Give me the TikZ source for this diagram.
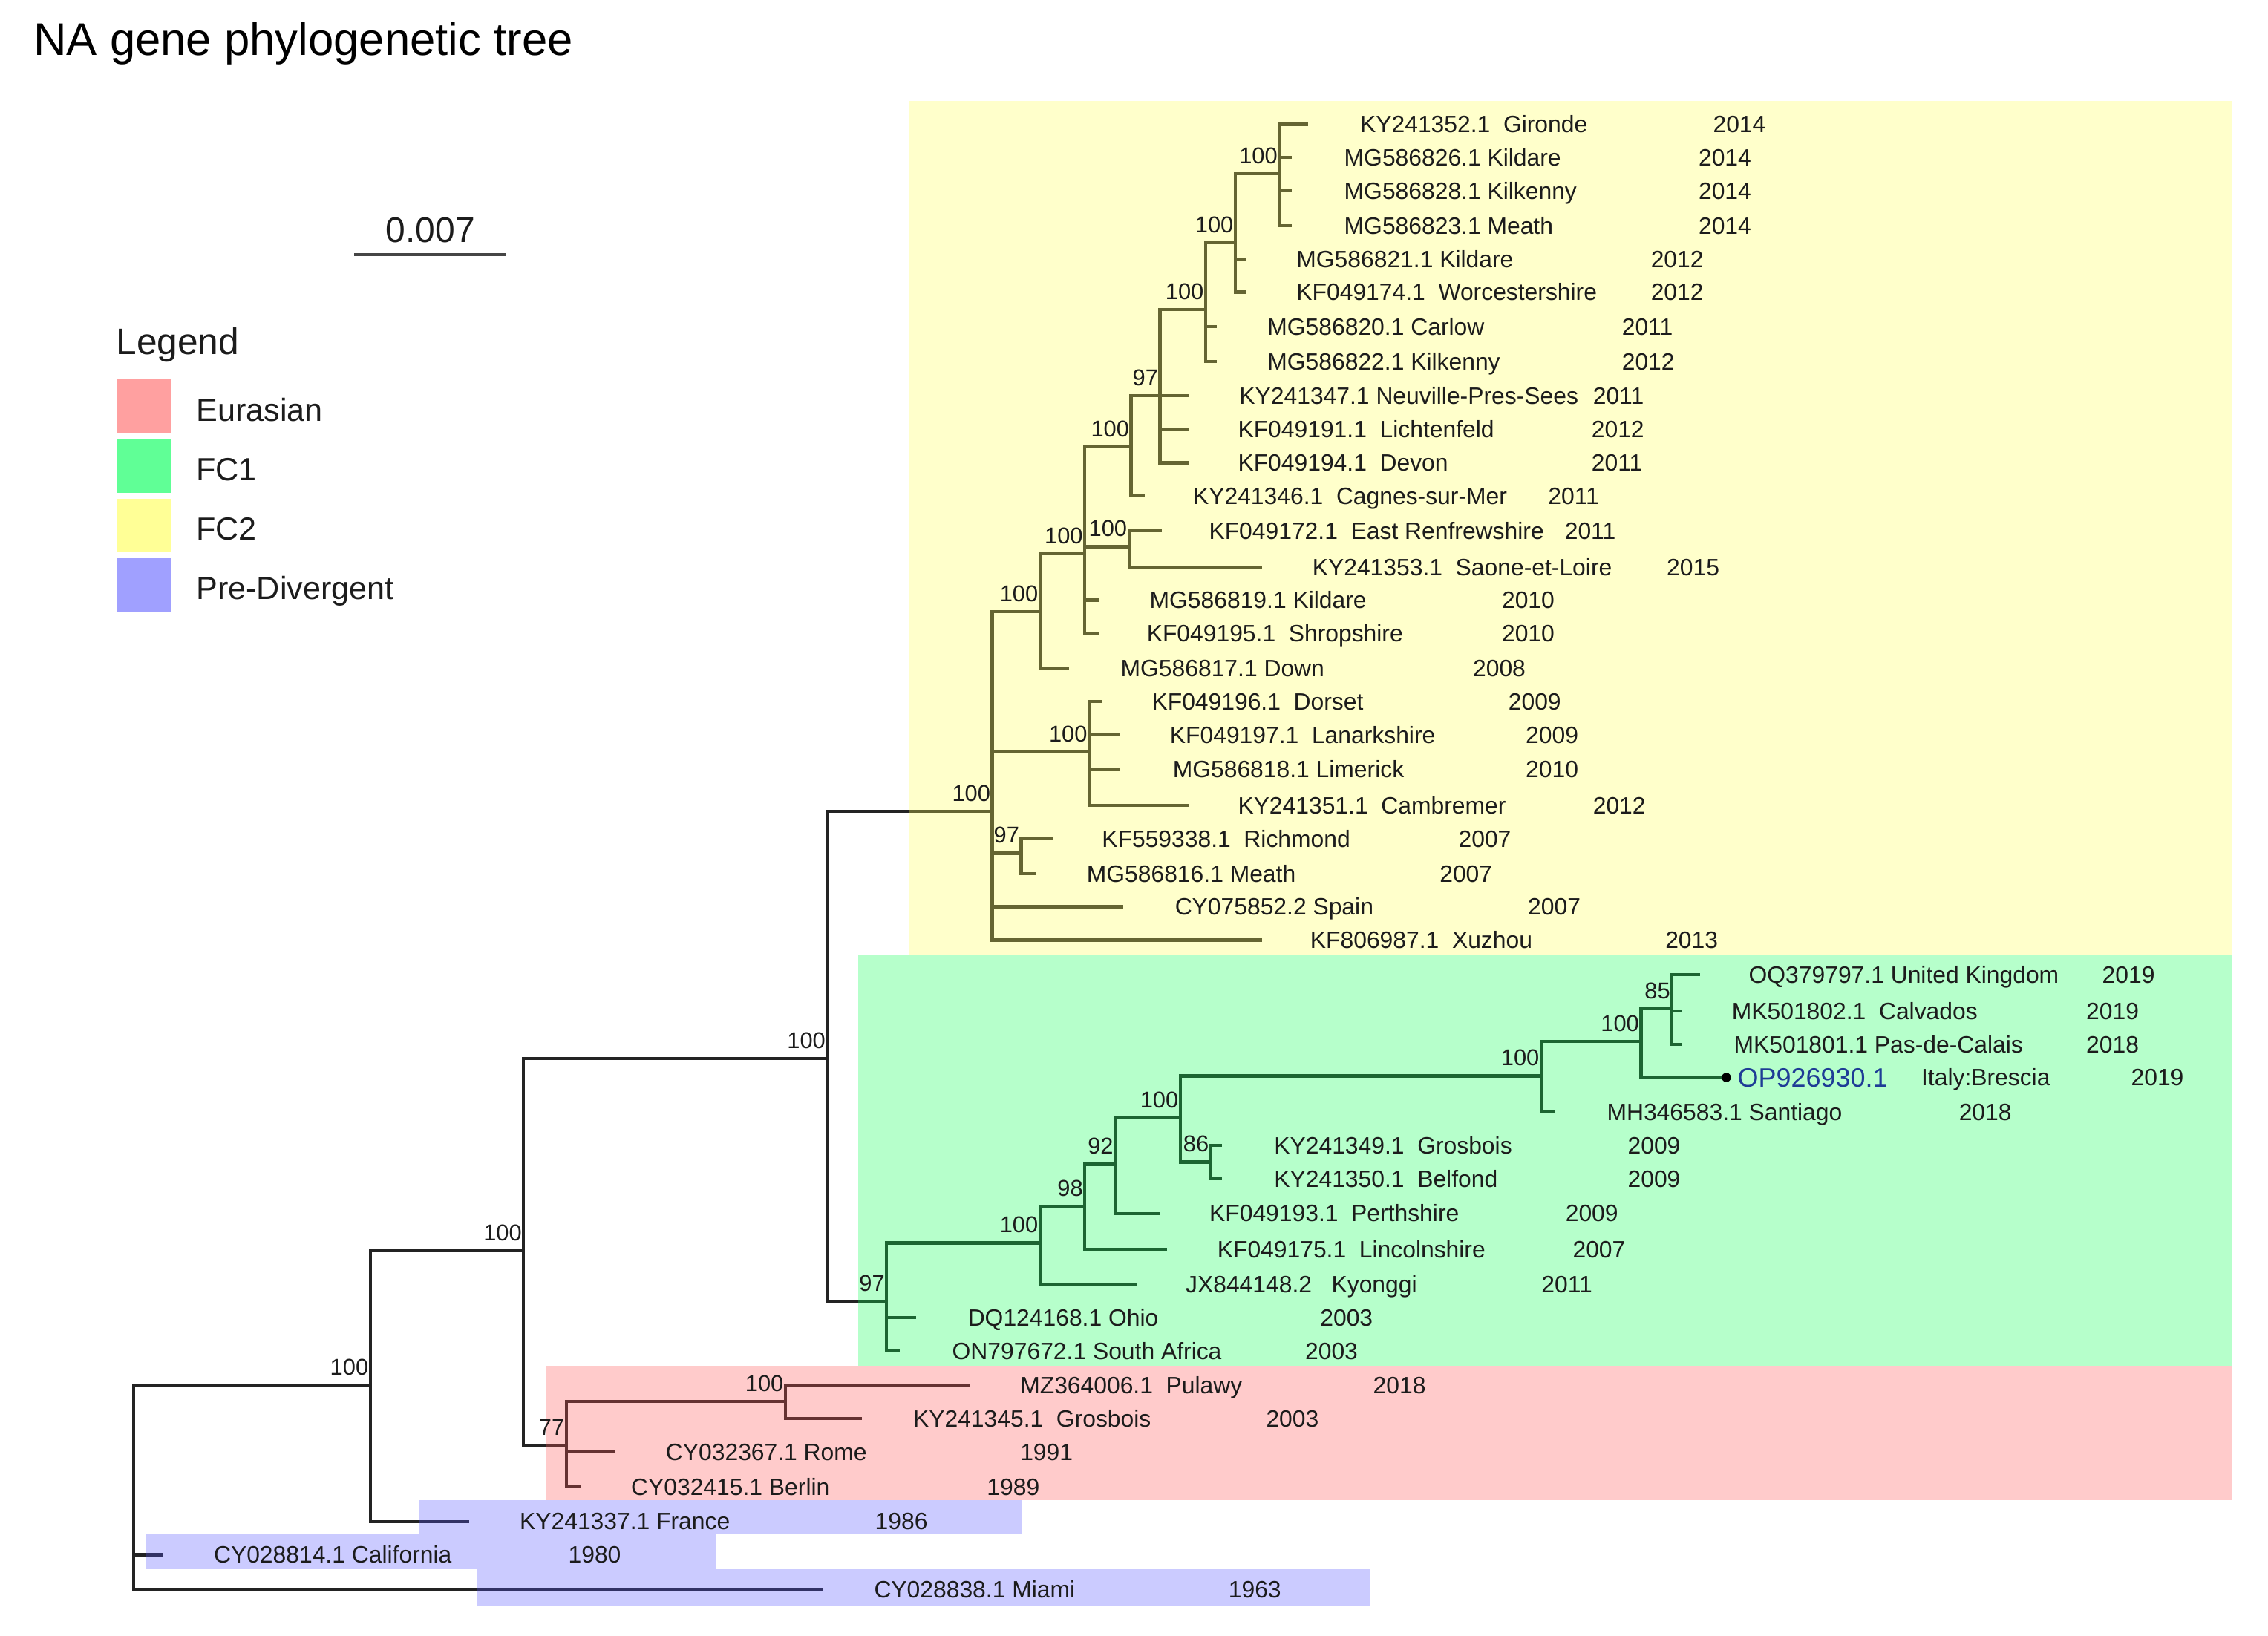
\documentclass[tikz,border=0pt]{standalone}
\usepackage{fontspec}
\setmainfont{Liberation Sans}
\definecolor{ovY}{RGB}{255,255,85}
\definecolor{ovG}{RGB}{15,255,85}
\definecolor{ovR}{RGB}{255,85,85}
\definecolor{ovB}{RGB}{85,85,255}
\definecolor{swR}{RGB}{255,160,160}
\definecolor{swG}{RGB}{96,255,150}
\definecolor{swY}{RGB}{255,255,150}
\definecolor{swB}{RGB}{160,160,255}
\definecolor{lineC}{RGB}{35,35,35}
\definecolor{txtC}{RGB}{28,28,28}
\definecolor{opC}{RGB}{30,60,150}
\begin{document}
\def\leaflist{%
1/NA/904.5/86/940/KY241352.1~~Gironde/1184/2014,
2/NA/893/109/929/MG586826.1 Kildare/1174/2014,
3/NA/893/132/929/MG586828.1 Kilkenny/1174/2014,
4/NA/893/156/929/MG586823.1 Meath/1174/2014,
5/NB/861/179/896/MG586821.1 Kildare/1141/2012,
6/NB/861/202/896/KF049174.1~~Worcestershire/1141/2012,
7/NC/841/226/876/MG586820.1 Carlow/1121/2011,
8/NC/841/250/876/MG586822.1 Kilkenny/1121/2012,
9/ND/821.7/273.5/856.5/KY241347.1 Neuville-Pres-Sees/1101/2011,
10/ND/821.7/297/855.5/KF049191.1~~Lichtenfeld/1100/2012,
11/ND/821.7/320/855.5/KF049194.1~~Devon/1100/2011,
12/NE/791.6/343/824.5/KY241346.1~~Cagnes-sur-Mer/1070/2011,
13/NG/803/367/835.5/KF049172.1~~East Renfrewshire/1081.5/2011,
14/NG/872.5/392/907/KY241353.1~~Saone-et-Loire/1152/2015,
15/NF/759.6/415/794.5/MG586819.1 Kildare/1038/2010,
16/NF/759.6/438/792.5/KF049195.1~~Shropshire/1038/2010,
17/NH/739/462/774.5/MG586817.1 Down/1018/2008,
18/NI/761.5/485/796/KF049196.1~~Dorset/1042.5/2009,
19/NI/774.7/508/808.5/KF049197.1~~Lanarkshire/1054.5/2009,
20/NI/774.7/532/810.5/MG586818.1 Limerick/1054.5/2010,
21/NI/821.7/557/855.5/KY241351.1~~Cambremer/1101/2012,
22/NJ/727.6/580/761.5/KF559338.1~~Richmond/1008/2007,
23/NJ/716.3/604/751/MG586816.1 Meath/995/2007,
24/FC2/776.5/627/812/CY075852.2 Spain/1056/2007,
25/FC2/872.5/650/905.5/KF806987.1~~Xuzhou/1151/2013,
26/NS/1175.2/674/1208.7/OQ379797.1 United Kingdom/1453/2019,
27/NS/1163/699/1197/MK501802.1~~Calvados/1442/2019,
28/NS/1163/722/1198.4/MK501801.1 Pas-de-Calais/1442/2018,
30/NQ/1075/769/1110.6/MH346583.1 Santiago/1354/2018,
31/NP/844.6/792/880.6/KY241349.1~~Grosbois/1125/2009,
32/NP/844.6/815/880.6/KY241350.1~~Belfond/1125/2009,
33/NN/802/839/835.8/KF049193.1~~Perthshire/1082/2009,
34/NM/807/864/841.3/KF049175.1~~Lincolnshire/1087/2007,
35/NL/785.7/888/819.4/JX844148.2~~~Kyonggi/1065.4/2011,
36/G1/633.5/911/668.8/DQ124168.1 Ohio/912.4/2003,
37/G1/622/934/658/ON797672.1 South Africa/902/2003,
38/NPG/671/958/705/MZ364006.1~~Pulawy/949/2018,
39/NPG/595.8/981/631/KY241345.1~~Grosbois/875/2003,
40/EU/425/1004/460/CY032367.1 Rome/705/1991,
41/EU/402/1028/436/CY032415.1 Berlin/682/1989,
42/N256/324.5/1052/359/KY241337.1 France/604.6/1986,
43/R/113/1075/147.5/CY028814.1 California/392.6/1980,
44/R/568.6/1099/604/CY028838.1 Miami/849/1963}
\begin{tikzpicture}[x=0.02cm,y=-0.02cm,
  br/.style={line width=1.25pt, draw=lineC},
  leaf/.style={anchor=base west, inner sep=0pt, font=\fontsize{9.3}{11}\selectfont, text=txtC},
  boot/.style={anchor=base east, inner sep=0pt, font=\fontsize{9}{11}\selectfont, text=txtC},
  legtxt/.style={anchor=base west, inner sep=0pt, font=\fontsize{12.6}{14}\selectfont, text=txtC},
  ovl/.style={fill opacity=0.3}]
\fill[white] (0,0) rectangle (1568,1131);
\useasboundingbox (0,0) rectangle (1568,1131);

% internal nodes
\foreach \n/\x/\y in {R/92.5/1028, N256/256/958, N362/362/865, N572/572/732,
  FC2/686/561, NH/719/423, NF/750/383, NE/782/309, ND/802/273.5, NC/833.5/214,
  NB/854/168, NA/884.5/120, NG/780.5/378, NI/753/520, NJ/706/590,
  G1/613/900, NL/719/859.5, NM/750/834, NN/771/805, NO/816/773, NP/837/803.5,
  NQ/1065.5/744, NR/1134.5/720, NS/1156/697.5, EU/391.5/999.5, NPG/543/969}
  \coordinate (\n) at (\x,\y);

% internal connectors
\foreach \p/\c in {R/N256, N256/N362, N362/N572, N572/FC2, FC2/NH, NH/NF, NF/NE,
  NE/ND, ND/NC, NC/NB, NB/NA, NF/NG, FC2/NI, FC2/NJ, N572/G1, G1/NL, NL/NM,
  NM/NN, NN/NO, NO/NP, NO/NQ, NQ/NR, NR/NS, N362/EU, EU/NPG}
  \draw[br] (\p) |- (\c);

% leaf connectors
\foreach \i/\p/\tx/\ty/\nx/\txt/\yx/\yr in \leaflist {
  \coordinate (t\i) at (\tx,\ty);
  \draw[br] (\p) |- (t\i);
}
\coordinate (t29) at (1193.5,745);
\draw[br] (NR) |- (t29);

% clade overlays
\fill[ovY, ovl] (628,70) rectangle (1543,660.5);
\fill[ovG, ovl] (593.5,660.5) rectangle (1543,944.5);
\fill[ovR, ovl] (377.5,944.5) rectangle (1543,1037.5);
\fill[ovB, ovl] (290,1037.5) rectangle (706,1061);
\fill[ovB, ovl] (101,1061) rectangle (494.7,1085);
\fill[ovB, ovl] (329.7,1085) rectangle (947.7,1110);

% leaf labels
\foreach \i/\p/\tx/\ty/\nx/\txt/\yx/\yr in \leaflist {
  \node[leaf] (n\i) at (\nx,\ty+5.8) {\txt};
  \node[leaf] (y\i) at (\yx,\ty+5.8) {\yr};
}
\fill[black] (t29) circle (3.2);
\node[leaf, font=\fontsize{10.5}{12}\selectfont, text=opC] (n29) at (1201,751.5) {OP926930.1};
\node[leaf] (l29) at (1328,750.8) {Italy:Brescia};
\node[leaf] (y29) at (1473,750.8) {2019};

% bootstrap values
\foreach \n/\b in {N256/100, N362/100, N572/100, FC2/100, NH/100, NF/100, NE/100,
  ND/97, NC/100, NB/100, NA/100, NG/100, NI/100, NJ/97, G1/97, NL/100, NM/98,
  NN/92, NO/100, NP/86, NQ/100, NR/100, NS/85, EU/77, NPG/100}
  \node[boot] (b\n) at ([shift={(-1,-7)}]\n) {\b};

% title
\node[anchor=base west, inner sep=0pt, font=\fontsize{18}{20}\selectfont, text=black] (title) at (23,38) {NA gene phylogenetic tree};

% scale bar
\node[anchor=base, inner sep=0pt, font=\fontsize{14}{16}\selectfont, text=txtC] (scl) at (297.6,167.4) {0.007};
\coordinate (s1) at (245,176);
\coordinate (s2) at (350,176);
\draw[line width=1.3pt, draw={rgb,255:red,70;green,70;blue,70}] (s1) -- (s2);

% legend
\node[anchor=base west, inner sep=0pt, font=\fontsize{14.5}{16}\selectfont, text=txtC] (leg) at (80,245) {Legend};
\fill[swR] (81,262) rectangle (118.6,299);
\fill[swG] (81,304) rectangle (118.6,341);
\fill[swY] (81,345) rectangle (118.6,382);
\fill[swB] (81,386) rectangle (118.6,423);
\node[legtxt] (leg1) at (135.4,291.5) {Eurasian};
\node[legtxt] (leg2) at (135.4,332.5) {FC1};
\node[legtxt] (leg3) at (135.4,373.5) {FC2};
\node[legtxt] (leg4) at (135.4,414.5) {Pre-Divergent};
\end{tikzpicture}
\end{document}
